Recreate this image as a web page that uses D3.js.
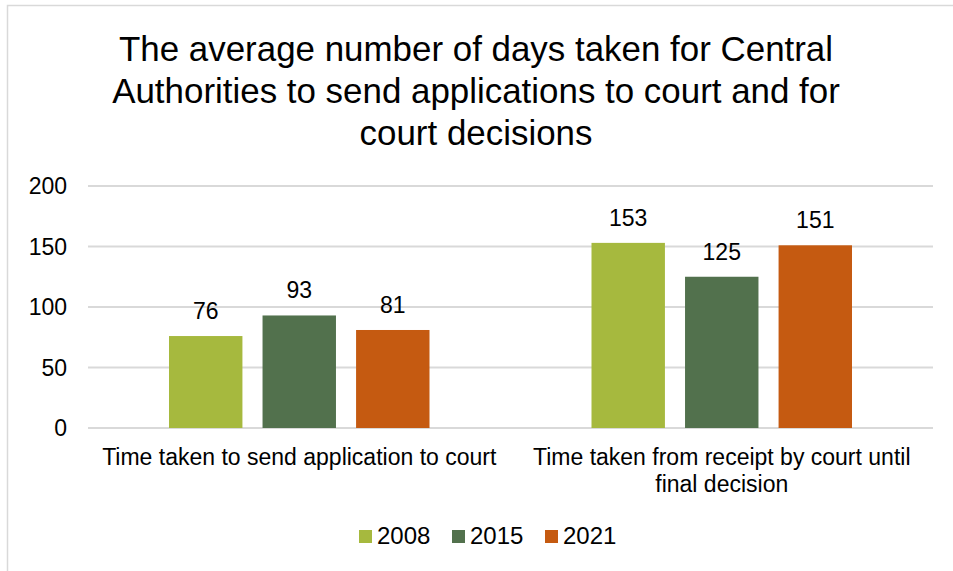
<!DOCTYPE html>
<html>
<head>
<meta charset="utf-8">
<script src="https://cdn.jsdelivr.net/npm/d3@7"></script>
<style>
  body { margin: 0; background: #fff; }
  text { font-family: "Liberation Sans", Arial, sans-serif; fill: #000; }
</style>
</head>
<body>
<svg id="chart" width="953" height="571"></svg>
<script>
// data
var categories = ["Time taken to send application to court",
                  "Time taken from receipt by court until final decision"];
var categoryLines = [["Time taken to send application to court"],
                     ["Time taken from receipt by court until", "final decision"]];
var years = ["2008", "2015", "2021"];
var values2008 = [76, 153];
var values2015 = [93, 125];
var values2021 = [81, 151];
var yTicks = [0, 50, 100, 150, 200];
var titleLines = ["The average number of days taken for Central",
                  "Authorities to send applications to court and for",
                  "court decisions"];

var seriesValues = { "2008": values2008, "2015": values2015, "2021": values2021 };
var colors = { "2008": "#A6B93E", "2015": "#52714D", "2021": "#C55A11" };

var svg = d3.select("#chart");

// outer border (chart area frame)
svg.append("rect")
    .attr("x", 7.5).attr("y", 5.5)
    .attr("width", 1000).attr("height", 1000)
    .attr("fill", "none")
    .attr("stroke", "#D9D9D9")
    .attr("stroke-width", 1.5);

// title (slightly condensed to mimic the original face)
svg.append("g")
    .attr("transform", "translate(476,0) scale(0.97,1)")
  .append("text")
    .attr("text-anchor", "middle")
    .attr("font-size", 36)
  .selectAll("tspan")
  .data(titleLines)
  .enter().append("tspan")
    .attr("x", 0)
    .attr("y", function(d, i) { return 61 + i * 42; })
    .text(function(d) { return d; });

var left = 88, right = 933;

// scales
var x0 = d3.scaleBand().domain(categories).range([left, right]).padding(0);
var x1 = d3.scaleBand().domain(years)
    .range([81, x0.bandwidth() - 81])
    .paddingInner(0.215).paddingOuter(0);
var y = d3.scaleLinear().domain([0, 200]).range([428, 186]);

// gridlines
svg.append("g").selectAll("line")
  .data(yTicks)
  .enter().append("line")
    .attr("x1", left).attr("x2", right)
    .attr("y1", function(d) { return y(d); })
    .attr("y2", function(d) { return y(d); })
    .attr("stroke", "#D9D9D9")
    .attr("stroke-width", 2);

// y axis labels
svg.append("g").selectAll("text")
  .data(yTicks)
  .enter().append("text")
    .attr("x", 67)
    .attr("y", function(d) { return y(d) + 8; })
    .attr("text-anchor", "end")
    .attr("font-size", 23)
    .text(function(d) { return d; });

// bars
var groups = svg.append("g").selectAll("g")
  .data(categories)
  .enter().append("g")
    .attr("transform", function(d) { return "translate(" + x0(d) + ",0)"; });

groups.selectAll("rect")
  .data(function(d, i) { return years.map(function(yr) { return { year: yr, value: seriesValues[yr][i] }; }); })
  .enter().append("rect")
    .attr("x", function(d) { return x1(d.year); })
    .attr("width", x1.bandwidth())
    .attr("y", function(d) { return y(d.value); })
    .attr("height", function(d) { return y(0) - y(d.value); })
    .attr("fill", function(d) { return colors[d.year]; });

// data labels
groups.selectAll("text")
  .data(function(d, i) { return years.map(function(yr) { return { year: yr, value: seriesValues[yr][i] }; }); })
  .enter().append("text")
    .attr("x", function(d) { return x1(d.year) + x1.bandwidth() / 2; })
    .attr("y", function(d) { return y(d.value) - 17; })
    .attr("text-anchor", "middle")
    .attr("font-size", 23)
    .text(function(d) { return d.value; });

// category labels
svg.append("g").selectAll("text")
  .data(categories)
  .enter().append("text")
    .attr("text-anchor", "middle")
    .attr("font-size", 23)
  .each(function(d, i) {
    d3.select(this).selectAll("tspan")
      .data(categoryLines[i])
      .enter().append("tspan")
        .attr("x", x0(d) + x0.bandwidth() / 2)
        .attr("y", function(l, j) { return 465 + j * 27; })
        .text(function(l) { return l; });
  });

// legend
var legendX = [359, 452, 545];
var legend = svg.append("g").selectAll("g")
  .data(years)
  .enter().append("g")
    .attr("transform", function(d, i) { return "translate(" + legendX[i] + ",530)"; });

legend.append("rect")
    .attr("width", 13).attr("height", 13)
    .attr("fill", function(d) { return colors[d]; });

legend.append("text")
    .attr("x", 18).attr("y", 14)
    .attr("font-size", 24)
    .text(function(d) { return d; });
</script>
</body>
</html>
